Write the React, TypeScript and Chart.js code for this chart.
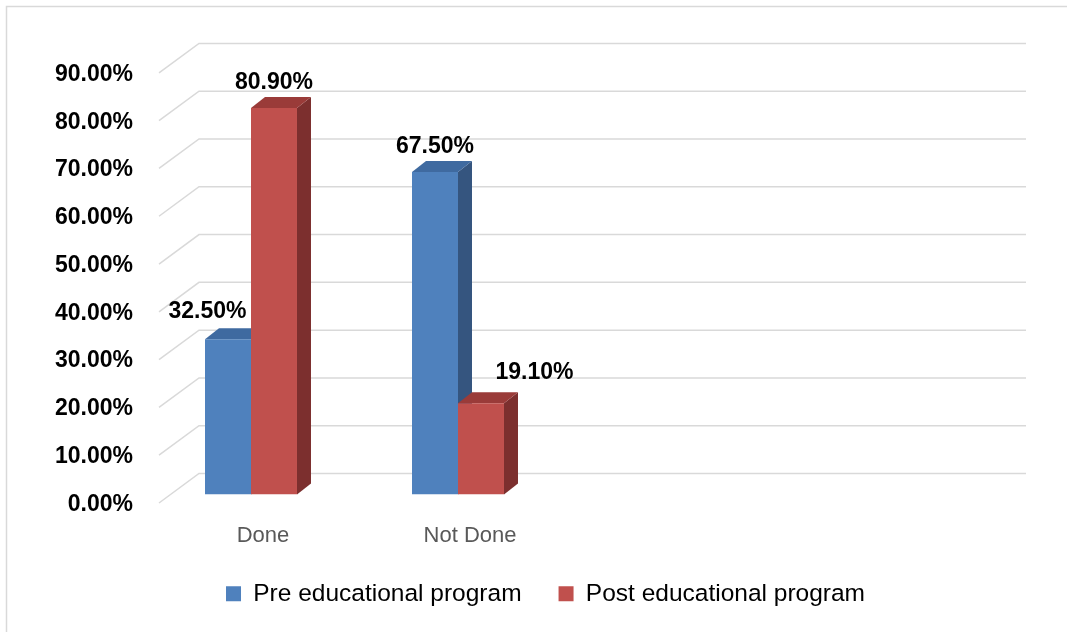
import React, { useEffect, useRef } from "react";
import { Chart, registerables } from "chart.js";

Chart.register(...registerables);

// ---- data ----
const categories: string[] = ["Done", "Not Done", "", ""];
const preValues: (number | null)[] = [32.5, 67.5, null, null];
const postValues: (number | null)[] = [80.9, 19.1, null, null];
const seriesNames: string[] = ["Pre educational program", "Post educational program"];
const yTickValues: number[] = [0, 10, 20, 30, 40, 50, 60, 70, 80, 90];

// ---- styles ----
const FONT = "'Liberation Sans', Arial, sans-serif";
const FRONT = ["#4F81BD", "#C0504D"];
const TOPC = ["#3F6AA0", "#9A3B39"];
const SIDE = ["#35557F", "#7C2F2E"];
const GRID = "#d9d9d9";
const DX = 14;
const DY = -11;

const fmt = (v: number) => v.toFixed(2) + "%";

const depthPlugin = {
  id: "depth3d",
  beforeDraw(chart: any) {
    const ctx = chart.ctx;
    ctx.save();
    ctx.fillStyle = "#ffffff";
    ctx.fillRect(0, 0, chart.width, chart.height);
    ctx.strokeStyle = GRID;
    ctx.lineWidth = 1.5;
    ctx.beginPath();
    ctx.moveTo(6.5, chart.height);
    ctx.lineTo(6.5, 6.5);
    ctx.lineTo(chart.width, 6.5);
    ctx.stroke();
    ctx.restore();
  },
  beforeDatasetsDraw(chart: any) {
    const { ctx, chartArea, scales } = chart;
    const y = scales.y;
    ctx.save();
    ctx.strokeStyle = GRID;
    ctx.lineWidth = 1.5;
    y.ticks.forEach((t: any) => {
      const p = y.getPixelForValue(t.value);
      ctx.beginPath();
      ctx.moveTo(chartArea.left + 11.5, p + 8.5);
      ctx.lineTo(chartArea.left + 51.5, p - 21);
      ctx.lineTo(chartArea.right + 50.5, p - 21);
      ctx.stroke();
    });
    chart.data.datasets.forEach((ds: any, di: number) => {
      const meta = chart.getDatasetMeta(di);
      meta.data.forEach((el: any, i: number) => {
        if (ds.data[i] == null) return;
        const { x, y: top, base, width } = el.getProps(["x", "y", "base", "width"], true);
        const l = x - width / 2;
        const r = x + width / 2;
        ctx.fillStyle = SIDE[di];
        ctx.beginPath();
        ctx.moveTo(r, top);
        ctx.lineTo(r + DX, top + DY);
        ctx.lineTo(r + DX, base + DY);
        ctx.lineTo(r, base);
        ctx.closePath();
        ctx.fill();
        ctx.fillStyle = TOPC[di];
        ctx.beginPath();
        ctx.moveTo(l, top);
        ctx.lineTo(l + DX, top + DY);
        ctx.lineTo(r + DX, top + DY);
        ctx.lineTo(r, top);
        ctx.closePath();
        ctx.fill();
      });
    });
    ctx.restore();
  },
  afterDatasetsDraw(chart: any) {
    const ctx = chart.ctx;
    // label nudges (dataset-index) -> [dx, dy], as placed in the original
    const nudge: Record<string, [number, number]> = {
      "0-0": [-20.5, -2],
      "1-1": [53.5, -5],
    };
    ctx.save();
    ctx.font = `bold 23px ${FONT}`;
    ctx.fillStyle = "#000";
    ctx.textAlign = "center";
    ctx.textBaseline = "middle";
    chart.data.datasets.forEach((ds: any, di: number) => {
      const meta = chart.getDatasetMeta(di);
      meta.data.forEach((el: any, i: number) => {
        const v = ds.data[i];
        if (v == null) return;
        const [nx, ny] = nudge[`${di}-${i}`] || [0, 0];
        ctx.fillText(fmt(v), el.x + nx, el.y - 25.5 + ny);
      });
    });
    ctx.restore();
  },
};

export default function App() {
  const ref = useRef<HTMLCanvasElement | null>(null);
  useEffect(() => {
    document.body.style.margin = "0";
    const canvas = ref.current!;
    const chart = new Chart(canvas, {
      type: "bar",
      data: {
        labels: categories,
        datasets: [
          {
            label: seriesNames[0],
            data: preValues,
            backgroundColor: FRONT[0],
            borderWidth: 0,
            barPercentage: 1,
            categoryPercentage: 0.4444,
          },
          {
            label: seriesNames[1],
            data: postValues,
            backgroundColor: FRONT[1],
            borderWidth: 0,
            barPercentage: 1,
            categoryPercentage: 0.4444,
          },
        ],
      },
      options: {
        animation: false,
        responsive: false,
        maintainAspectRatio: false,
        layout: { padding: { top: 64.4, left: 24, right: 0, bottom: 16 } },
        plugins: {
          legend: {
            position: "bottom",
            labels: {
              boxWidth: 15,
              boxHeight: 15,
              padding: 37,
              color: "#000",
              font: { family: FONT, size: 24.5 },
            },
          },
          tooltip: { enabled: false },
        },
        scales: {
          x: {
            grid: { display: false, drawTicks: false },
            border: { display: false },
            ticks: {
              padding: 28,
              labelOffset: 12,
              color: "#595959",
              autoSkip: false,
              maxRotation: 0,
              font: { family: FONT, size: 22 },
            },
            afterFit: (s: any) => {
              s.height = 50;
            },
          },
          y: {
            min: 0,
            max: 90,
            afterBuildTicks: (s: any) => {
              s.ticks = yTickValues.map((v) => ({ value: v }));
            },
            grid: { display: false, drawTicks: false },
            border: { display: false },
            ticks: {
              padding: 14.5,
              labelOffset: 10,
              color: "#000",
              font: { family: FONT, size: 23, weight: "bold" },
              callback: (v: any) => fmt(Number(v)),
            },
            afterFit: (s: any) => {
              s.width = 123.5;
            },
          },
          y2: {
            position: "right",
            grid: { display: false, drawTicks: false },
            border: { display: false },
            ticks: { display: false },
            afterFit: (s: any) => {
              s.width = 91.5;
            },
          },
        },
      },
      plugins: [depthPlugin],
    });
    return () => chart.destroy();
  }, []);
  return <canvas ref={ref} width={1067} height={632} style={{ display: "block" }} />;
}
